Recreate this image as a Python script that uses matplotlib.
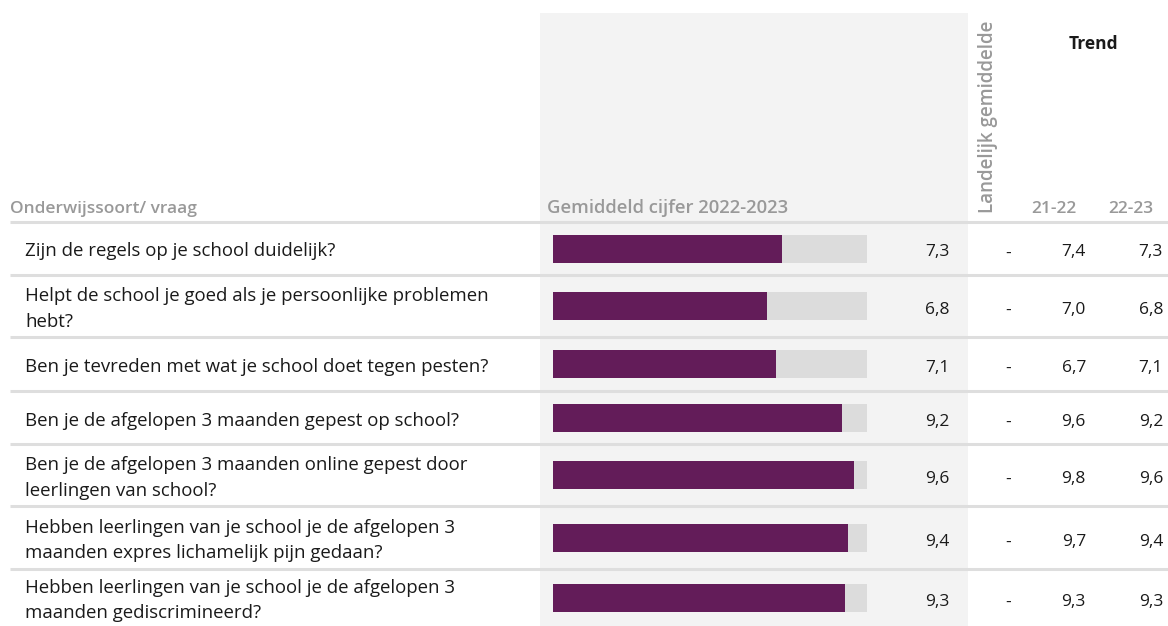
import matplotlib
matplotlib.use("Agg")
import matplotlib.pyplot as plt

plt.rcParams['font.family'] = ['Open Sans', 'DejaVu Sans']

# Vragen en cijfers
vragen = [
    "Zijn de regels op je school duidelijk?",
    "Helpt de school je goed als je persoonlijke problemen\nhebt?",
    "Ben je tevreden met wat je school doet tegen pesten?",
    "Ben je de afgelopen 3 maanden gepest op school?",
    "Ben je de afgelopen 3 maanden online gepest door\nleerlingen van school?",
    "Hebben leerlingen van je school je de afgelopen 3\nmaanden expres lichamelijk pijn gedaan?",
    "Hebben leerlingen van je school je de afgelopen 3\nmaanden gediscrimineerd?",
]
cijfer_2223 = [7.3, 6.8, 7.1, 9.2, 9.6, 9.4, 9.3]
landelijk = ["-", "-", "-", "-", "-", "-", "-"]
trend_2122 = [7.4, 7.0, 6.7, 9.6, 9.8, 9.7, 9.3]
trend_2223 = [7.3, 6.8, 7.1, 9.2, 9.6, 9.4, 9.3]
schaal_max = 10

PAARS = "#631c59"
SPOOR = "#dcdcdc"
PANEEL = "#f3f3f3"
LIJN = "#dedede"
KOP = "#999999"
TEKST = "#1a1a1a"
FS = 12.5

W, H = 1168, 626
fig = plt.figure(figsize=(W / 100, H / 100), dpi=100)

# layout-as in pixels
ax = fig.add_axes([0, 0, 1, 1])
ax.set_xlim(0, W)
ax.set_ylim(H, 0)
ax.axis("off")

rand = [222, 275, 337, 391, 444, 506, 569, 626]
midden = [(a + b) / 2 for a, b in zip(rand[:-1], rand[1:])]

# grijs paneel achter de balken
ax.add_patch(plt.Rectangle((540, 13), 428, H - 13, color=PANEEL, lw=0, zorder=0))

# scheidingslijnen
for y in rand[:-1]:
    ax.plot([10, W], [y, y], color=LIJN, lw=2.2, zorder=1, solid_capstyle="butt")

# koppen
kop = dict(color=KOP, fontsize=FS, fontweight="semibold", va="baseline")
ax.text(10, 213, "Onderwijssoort/ vraag", ha="left", **kop)
ax.text(547, 213, "Gemiddeld cijfer 2022-2023", ha="left",
        **{**kop, "fontsize": 13.3})
ax.text(1054, 213, "21-22", ha="center", **kop)
ax.text(1131, 213, "22-23", ha="center", **kop)
ax.text(988, 213, "Landelijk gemiddelde", rotation=90, ha="center", va="bottom",
        color=KOP, fontsize=13.5, fontweight="semibold")
ax.text(1093, 44, "Trend", ha="center", va="center", color=TEKST,
        fontsize=FS, fontweight="bold")

def fmt(v):
    return f"{v:.1f}".replace(".", ",")

for i, y in enumerate(midden):
    ax.text(25, y + 3, vragen[i], ha="left", va="center", color=TEKST,
            fontsize=13.4, linespacing=1.55)
    ax.text(950, y + 4, fmt(cijfer_2223[i]), ha="right", va="center",
            color=TEKST, fontsize=FS)
    ax.text(1008, y + 5, landelijk[i], ha="center", va="center",
            color=TEKST, fontsize=FS)
    ax.text(1086, y + 4, fmt(trend_2122[i]), ha="right", va="center",
            color=TEKST, fontsize=FS)
    ax.text(1163, y + 4, fmt(trend_2223[i]), ha="right", va="center",
            color=TEKST, fontsize=FS)

# balken op schaal 0-10
bx = fig.add_axes([553 / W, 0, 314 / W, 1])
bx.set_xlim(0, schaal_max)
bx.set_ylim(H, 0)
bx.axis("off")
bx.patch.set_alpha(0)
bx.barh(midden, [schaal_max] * len(midden), height=28, color=SPOOR, lw=0)
bx.barh(midden, cijfer_2223, height=28, color=PAARS, lw=0)

fig.savefig("out.png", dpi=100)
